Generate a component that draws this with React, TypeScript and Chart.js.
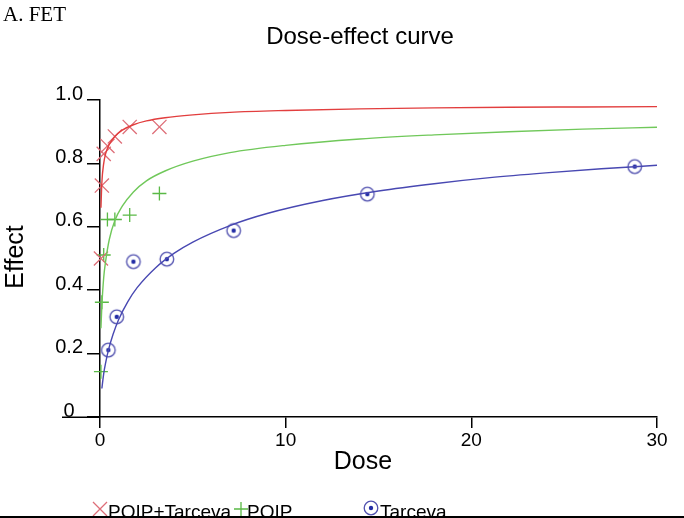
import React, { useEffect, useRef } from 'react';
import { Chart, registerables } from 'chart.js';

Chart.register(...registerables);

// ---- data ----
const CHART_TITLE = 'Dose-effect curve';
const PANEL_LABEL = 'A. FET';
const X_TITLE = 'Dose';
const Y_TITLE = 'Effect';
const SERIES_NAMES = ['PQIP+Tarceva', 'PQIP', 'Tarceva'];

const COMBO_DOSE = [0.05, 0.1, 0.2, 0.4, 0.8, 1.6, 3.2];
const COMBO_EFFECT = [0.5, 0.73, 0.83, 0.855, 0.885, 0.915, 0.915];

const PQIP_DOSE = [0.05, 0.1, 0.2, 0.4, 0.8, 1.6, 3.2];
const PQIP_EFFECT = [0.143, 0.362, 0.511, 0.623, 0.623, 0.637, 0.705];

const TARCEVA_DOSE = [0.45, 0.9, 1.8, 3.6, 7.2, 14.4, 28.8];
const TARCEVA_EFFECT = [0.211, 0.316, 0.49, 0.498, 0.588, 0.703, 0.79];

// fitted curves
const COMBO_CURVE_DOSE = [0.05, 0.1, 0.2, 0.3, 0.5, 0.8, 1.2, 1.8, 2.5, 3.5, 5, 7, 10, 14, 18, 22, 26, 30];
const COMBO_CURVE_EFFECT = [0.66, 0.74, 0.8, 0.83, 0.86, 0.885, 0.905, 0.922, 0.934, 0.944, 0.953, 0.961, 0.967, 0.972, 0.975, 0.977, 0.978, 0.979];

const PQIP_CURVE_DOSE = [0.05, 0.1, 0.2, 0.3, 0.5, 0.8, 1.2, 1.8, 2.5, 3.5, 5, 7, 10, 14, 18, 22, 26, 30];
const PQIP_CURVE_EFFECT = [0.28, 0.35, 0.44, 0.49, 0.56, 0.62, 0.665, 0.71, 0.745, 0.776, 0.807, 0.834, 0.857, 0.877, 0.89, 0.9, 0.908, 0.914];

const TARCEVA_CURVE_DOSE = [0.1, 0.2, 0.3, 0.45, 0.7, 1, 1.5, 2, 3, 4, 5, 7, 9, 12, 15, 18, 21, 24, 27, 30];
const TARCEVA_CURVE_EFFECT = [0.09, 0.137, 0.17, 0.21, 0.26, 0.307, 0.364, 0.408, 0.471, 0.517, 0.552, 0.604, 0.642, 0.683, 0.713, 0.736, 0.755, 0.77, 0.783, 0.794];

const X_TICKS = [0, 10, 20, 30];
const Y_TICKS = [0, 0.2, 0.4, 0.6, 0.8, 1.0];

const RED_LINE = 'rgb(226,62,62)';
const RED_MARK = 'rgb(222,110,120)';
const GREEN_LINE = 'rgb(112,200,90)';
const GREEN_MARK = 'rgb(90,185,70)';
const BLUE_LINE = 'rgb(72,72,178)';
const BLUE_MARK = 'rgb(80,80,175)';
const BLUE_DOT = 'rgb(35,45,165)';

const SANS = '"Liberation Sans", Arial, sans-serif';

function pts(xs: number[], ys: number[]) {
  return xs.map((x, i) => ({ x, y: ys[i] }));
}

function makeTarcevaMarker(): HTMLCanvasElement {
  const c = document.createElement('canvas');
  c.width = 18;
  c.height = 18;
  const ctx = c.getContext('2d')!;
  ctx.strokeStyle = BLUE_MARK;
  ctx.lineWidth = 1.3;
  ctx.beginPath();
  ctx.arc(9, 9, 6.8, 0, Math.PI * 2);
  ctx.stroke();
  ctx.fillStyle = BLUE_DOT;
  ctx.beginPath();
  ctx.arc(9, 9, 2.2, 0, Math.PI * 2);
  ctx.fill();
  return c;
}

export default function App() {
  const ref = useRef<HTMLCanvasElement | null>(null);

  useEffect(() => {
    if (!ref.current) return;
    const marker = makeTarcevaMarker();

    const extras = {
      id: 'extras',
      beforeDatasetsDraw(chart: any) {
        // x-axis line continues to the left of the y axis
        const ctx = chart.ctx as CanvasRenderingContext2D;
        const a = chart.chartArea;
        ctx.save();
        ctx.strokeStyle = '#000';
        ctx.lineWidth = 1.5;
        ctx.beginPath();
        ctx.moveTo(62, Math.round(a.bottom) + 0.25);
        ctx.lineTo(a.left, Math.round(a.bottom) + 0.25);
        ctx.stroke();
        ctx.restore();
      },
      afterDraw(chart: any) {
        const ctx = chart.ctx as CanvasRenderingContext2D;
        ctx.save();
        ctx.fillStyle = '#000';
        ctx.font = '21px "Liberation Serif", "Times New Roman", serif';
        ctx.textAlign = 'left';
        ctx.textBaseline = 'alphabetic';
        ctx.fillText(PANEL_LABEL, 3, 21);

        ctx.textAlign = 'center';
        ctx.textBaseline = 'middle';
        ctx.font = '24px ' + SANS;
        ctx.fillText(CHART_TITLE, 360, 37);

        // axis titles
        ctx.font = '25px ' + SANS;
        ctx.fillText(X_TITLE, 363, 462);

        ctx.save();
        ctx.translate(16, 257);
        ctx.rotate(-Math.PI / 2);
        ctx.fillText(Y_TITLE, 0, 0);
        ctx.restore();

        // legend
        const my = 509;
        ctx.lineWidth = 1.3;
        ctx.strokeStyle = RED_MARK;
        ctx.beginPath();
        ctx.moveTo(100 - 7, my - 7);
        ctx.lineTo(100 + 7, my + 7);
        ctx.moveTo(100 + 7, my - 7);
        ctx.lineTo(100 - 7, my + 7);
        ctx.stroke();
        ctx.strokeStyle = GREEN_MARK;
        ctx.beginPath();
        ctx.moveTo(241 - 7, my);
        ctx.lineTo(241 + 7, my);
        ctx.moveTo(241, my - 7);
        ctx.lineTo(241, my + 7);
        ctx.stroke();
        ctx.drawImage(marker, 371 - 9, my - 1 - 9);

        ctx.fillStyle = '#000';
        ctx.font = '19px ' + SANS;
        ctx.textAlign = 'left';
        ctx.textBaseline = 'alphabetic';
        ctx.fillText(SERIES_NAMES[0], 108, 518);
        ctx.fillText(SERIES_NAMES[1], 247, 518);
        ctx.fillText(SERIES_NAMES[2], 380, 518);

        ctx.fillRect(0, 516, chart.width, 2);
        ctx.restore();
      },
    };

    const chart = new Chart(ref.current, {
      type: 'scatter',
      data: {
        datasets: [
          {
            label: SERIES_NAMES[0] + ' fit',
            data: pts(COMBO_CURVE_DOSE, COMBO_CURVE_EFFECT),
            showLine: true,
            borderColor: RED_LINE,
            borderWidth: 1.4,
            pointRadius: 0,
            cubicInterpolationMode: 'monotone',
          },
          {
            label: SERIES_NAMES[1] + ' fit',
            data: pts(PQIP_CURVE_DOSE, PQIP_CURVE_EFFECT),
            showLine: true,
            borderColor: GREEN_LINE,
            borderWidth: 1.4,
            pointRadius: 0,
            cubicInterpolationMode: 'monotone',
          },
          {
            label: SERIES_NAMES[2] + ' fit',
            data: pts(TARCEVA_CURVE_DOSE, TARCEVA_CURVE_EFFECT),
            showLine: true,
            borderColor: BLUE_LINE,
            borderWidth: 1.4,
            pointRadius: 0,
            cubicInterpolationMode: 'monotone',
          },
          {
            label: SERIES_NAMES[0],
            data: pts(COMBO_DOSE, COMBO_EFFECT),
            pointStyle: 'crossRot',
            pointRadius: 10,
            pointBorderWidth: 1.3,
            borderColor: RED_MARK,
            backgroundColor: RED_MARK,
            clip: false,
          },
          {
            label: SERIES_NAMES[1],
            data: pts(PQIP_DOSE, PQIP_EFFECT),
            pointStyle: 'cross',
            pointRadius: 7,
            pointBorderWidth: 1.3,
            borderColor: GREEN_MARK,
            backgroundColor: GREEN_MARK,
            clip: false,
          },
          {
            label: SERIES_NAMES[2],
            data: pts(TARCEVA_DOSE, TARCEVA_EFFECT),
            pointStyle: marker,
            pointRadius: 7,
            borderColor: BLUE_MARK,
            backgroundColor: BLUE_MARK,
            clip: false,
          },
        ],
      },
      options: {
        animation: false,
        responsive: false,
        maintainAspectRatio: false,
        layout: { padding: { left: 0, right: 27, top: 100, bottom: 0 } },
        plugins: {
          legend: { display: false },
          tooltip: { enabled: false },
          title: { display: false },
        },
        scales: {
          x: {
            type: 'linear',
            min: 0,
            max: 30,
            afterBuildTicks: (scale: any) => {
              scale.ticks = X_TICKS.map((v) => ({ value: v }));
            },
            afterFit: (scale: any) => {
              scale.height = 101;
            },
            grid: { drawOnChartArea: false, tickLength: 11, color: '#000', lineWidth: 1.5 },
            border: { color: '#000', width: 1.5 },
            ticks: {
              color: '#000',
              padding: 3,
              maxRotation: 0,
              font: { family: SANS, size: 19, lineHeight: 1 },
            },
          },
          y: {
            type: 'linear',
            position: 'left',
            min: 0,
            max: 1,
            afterBuildTicks: (scale: any) => {
              scale.ticks = Y_TICKS.map((v) => ({ value: v }));
            },
            afterFit: (scale: any) => {
              scale.width = 100;
            },
            grid: { drawOnChartArea: false, tickLength: 13, color: '#000', lineWidth: 1.5 },
            border: { color: '#000', width: 1.5 },
            ticks: {
              color: '#000',
              padding: 4,
              labelOffset: -6,
              crossAlign: 'center',
              font: { family: SANS, size: 20, lineHeight: 1 },
              callback: (v: any) => (Number(v) === 0 ? '0' : Number(v).toFixed(1)),
            },
          },
        },
      },
      plugins: [extras],
    } as any);

    return () => chart.destroy();
  }, []);

  return (
    <div style={{ position: 'absolute', left: 0, top: 0, width: 684, height: 518, background: '#fff' }}>
      <canvas ref={ref} width={684} height={518} style={{ display: 'block' }} />
    </div>
  );
}
